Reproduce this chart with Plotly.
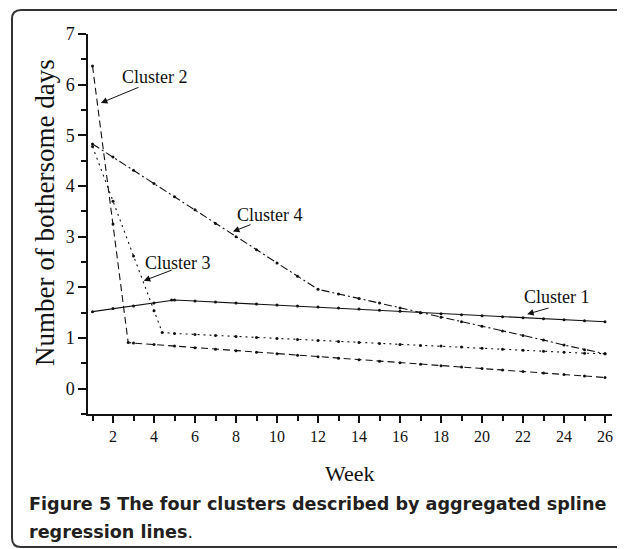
import plotly.graph_objects as go

# ---------------- data ----------------
c1_week = [1, 2, 3, 4, 4.86, 5, 6, 7, 8, 9, 10, 11, 12, 13, 14, 15, 16, 17, 18, 19, 20, 21, 22, 23, 24, 25, 26]
c1_val = [1.52, 1.58, 1.63, 1.69, 1.75, 1.75, 1.73, 1.71, 1.69, 1.67, 1.65, 1.63, 1.61, 1.59, 1.57, 1.55,
          1.53, 1.50, 1.48, 1.46, 1.44, 1.42, 1.40, 1.38, 1.36, 1.34, 1.32]

c2_week = [1, 2, 2.74, 3, 4, 5, 6, 7, 8, 9, 10, 11, 12, 13, 14, 15, 16, 17, 18, 19, 20, 21, 22, 23, 24, 25, 26]
c2_val = [6.37, 3.25, 0.91, 0.90, 0.87, 0.84, 0.81, 0.78, 0.75, 0.72, 0.69, 0.66, 0.63, 0.60, 0.57, 0.54,
          0.51, 0.48, 0.45, 0.43, 0.40, 0.37, 0.34, 0.31, 0.28, 0.25, 0.22]

c3_week = [1, 2, 3, 4, 4.4, 5, 6, 7, 8, 9, 10, 11, 12, 13, 14, 15, 16, 17, 18, 19, 20, 21, 22, 23, 24, 25, 26]
c3_val = [4.78, 3.70, 2.62, 1.54, 1.11, 1.09, 1.07, 1.05, 1.03, 1.01, 0.99, 0.97, 0.95, 0.93, 0.91, 0.89,
          0.87, 0.85, 0.84, 0.82, 0.80, 0.78, 0.76, 0.74, 0.72, 0.70, 0.69]

c4_week = [1, 2, 3, 4, 5, 6, 7, 8, 9, 10, 11, 12, 13, 14, 15, 16, 17, 18, 19, 20, 21, 22, 23, 24, 25, 26]
c4_val = [4.83, 4.57, 4.31, 4.05, 3.79, 3.53, 3.26, 3.00, 2.74, 2.48, 2.22, 1.96, 1.87, 1.78, 1.69, 1.59,
          1.50, 1.41, 1.32, 1.23, 1.14, 1.05, 0.96, 0.86, 0.77, 0.69]

labels = ["Cluster 1", "Cluster 2", "Cluster 3", "Cluster 4"]
# label text position, arrow tail, arrow head  (week, value)
label_pos = [(23.66, 1.81), (4.05, 6.15), (5.17, 2.49), (9.66, 3.43)]
arrow_tail = [(23.32, 1.60), (3.32, 5.96), (4.93, 2.35), (8.78, 3.25)]
arrow_head = [(22.2, 1.47), (1.41, 5.64), (3.5, 2.13), (7.85, 3.10)]

x_tickvals = [2, 4, 6, 8, 10, 12, 14, 16, 18, 20, 22, 24, 26]
y_tickvals = [0, 1, 2, 3, 4, 5, 6, 7]

# ---------------- figure ----------------
# the page body has an 8px margin, so the figure is drawn 8px smaller and
# reference pixel positions are shifted by that offset
OFF = 8
W, H = 625 - OFF, 549 - OFF
ML, MT = 88 - OFF, 34 - OFF
MR = W - (612 - OFF)
MB = H - (414 - OFF)
PW, PH = W - ML - MR, H - MT - MB

def px(xp):
    return (xp - OFF - ML) / PW

def py(yp):
    return (MT + PH - (yp - OFF)) / PH

serif = "Liberation Serif, Times New Roman, serif"
ink = "#111111"

fig = go.Figure()
series = [
    (c1_week, c1_val, "solid"),
    (c2_week, c2_val, "7px,4px"),
    (c3_week, c3_val, "2px,4px"),
    (c4_week, c4_val, "8px,3px,2px,3px"),
]
for (wk, vals, dash), name in zip(series, labels):
    fig.add_trace(go.Scatter(
        x=wk, y=vals, mode="lines+markers", name=name,
        line=dict(color=ink, width=1.1, dash=dash),
        marker=dict(color=ink, size=3, symbol="circle"),
        showlegend=False,
    ))

for name, lp, tl, hd in zip(labels, label_pos, arrow_tail, arrow_head):
    fig.add_annotation(x=lp[0], y=lp[1], xref="x", yref="y", text=name, showarrow=False,
                       font=dict(family=serif, size=18, color=ink))
    fig.add_annotation(x=hd[0], y=hd[1], ax=tl[0], ay=tl[1], xref="x", yref="y",
                       axref="x", ayref="y", text="", showarrow=True,
                       arrowhead=2, arrowsize=1.3, arrowwidth=1, arrowcolor=ink, standoff=0)

# axis titles
fig.add_annotation(x=px(350), y=py(473), xref="paper", yref="paper", text="Week", showarrow=False,
                   font=dict(family=serif, size=22, color=ink), xanchor="center", yanchor="middle")
fig.add_annotation(x=px(45), y=py(213), xref="paper", yref="paper", text="Number of bothersome days",
                   showarrow=False, textangle=-90,
                   font=dict(family=serif, size=27, color=ink), xanchor="center", yanchor="middle")

# caption
cap_font = dict(family="DejaVu Sans, sans-serif", size=17.6, color="#231f20")
fig.add_annotation(x=px(27), y=py(504), xref="paper", yref="paper",
                   text="<b>Figure 5 The four clusters described by aggregated spline</b>",
                   showarrow=False, xanchor="left", yanchor="middle", font=cap_font)
fig.add_annotation(x=px(27), y=py(532), xref="paper", yref="paper",
                   text="<b>regression lines</b>.",
                   showarrow=False, xanchor="left", yanchor="middle", font=cap_font)

# rounded frame (reference pixel positions)
L, T, B, R, r = 12, 10, 547, 660, 9
path = (f"M {px(R)},{py(T)} L {px(L + r)},{py(T)} Q {px(L)},{py(T)} {px(L)},{py(T + r)} "
        f"L {px(L)},{py(B - r)} Q {px(L)},{py(B)} {px(L + r)},{py(B)} L {px(R)},{py(B)}")
fig.add_shape(type="path", path=path, xref="paper", yref="paper",
              line=dict(color="#333333", width=2))

fig.update_xaxes(
    range=[0.78, 26.34], tickvals=x_tickvals, ticks="outside", ticklen=7, tickwidth=1.5,
    tickcolor=ink, showline=True, linecolor=ink, linewidth=1.5, showgrid=False, zeroline=False,
    tickfont=dict(family=serif, size=16, color=ink),
    minor=dict(dtick=1, tick0=1, ticks="outside", ticklen=5, tickwidth=1.5, tickcolor=ink, showgrid=False),
)
fig.update_yaxes(
    range=[-0.5, 7.0], tickvals=y_tickvals, ticks="outside", ticklen=8, tickwidth=1.5,
    tickcolor=ink, showline=True, linecolor=ink, linewidth=1.5, showgrid=False, zeroline=False,
    tickfont=dict(family=serif, size=18, color=ink),
    minor=dict(dtick=0.5, tick0=0, ticks="outside", ticklen=5, tickwidth=1.5, tickcolor=ink, showgrid=False),
)
fig.update_layout(
    width=W, height=H, margin=dict(l=ML, r=MR, t=MT, b=MB),
    paper_bgcolor="white", plot_bgcolor="white",
)
fig.write_html("out.html")
